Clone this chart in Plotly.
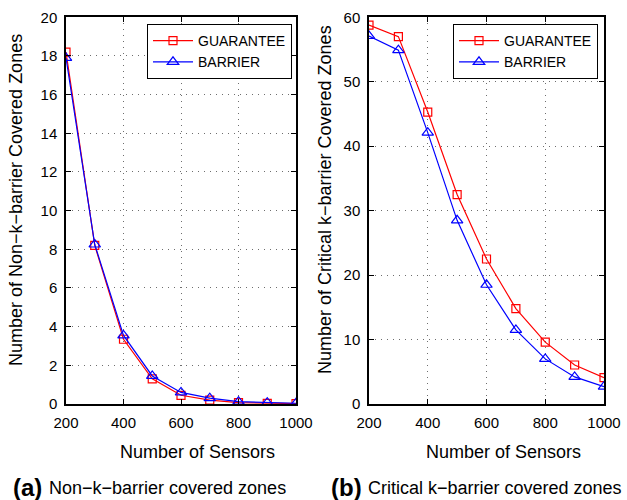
import plotly.graph_objects as go

sensors = [200, 300, 400, 500, 600, 700, 800, 900, 1000]
non_k_guarantee = [18.2, 8.2, 3.35, 1.3, 0.45, 0.2, 0.07, 0.03, 0.02]
non_k_barrier = [17.9, 8.25, 3.55, 1.45, 0.6, 0.3, 0.12, 0.07, 0.04]
critical_guarantee = [58.8, 57.0, 45.3, 32.5, 22.5, 14.8, 9.6, 6.05, 4.1]
critical_barrier = [57.1, 54.9, 42.1, 28.5, 18.5, 11.5, 7.0, 4.2, 2.7]

FONT = "Liberation Sans, Arial, Helvetica, sans-serif"
W, H = 627, 500

fig = go.Figure()

def add(x, y, name, color, symbol, size, xa, ya, legend):
    fig.add_trace(go.Scatter(
        x=x, y=y, name=name, mode="lines+markers",
        line=dict(color=color, width=1.2),
        marker=dict(symbol=symbol, size=size, color=color,
                    line=dict(color=color, width=1.2)),
        xaxis=xa, yaxis=ya, legend=legend))

add(sensors, non_k_guarantee, "GUARANTEE", "#ff0000", "square-open", 8, "x", "y", "legend")
add(sensors, non_k_barrier, "BARRIER", "#0000ff", "triangle-up-open", 10, "x", "y", "legend")
add(sensors, critical_guarantee, "GUARANTEE", "#ff0000", "square-open", 8, "x2", "y2", "legend2")
add(sensors, critical_barrier, "BARRIER", "#0000ff", "triangle-up-open", 10, "x2", "y2", "legend2")

ydom = [1 - 404 / H, 1 - 17.3 / H]
axis_common = dict(
    showline=True, linecolor="black", linewidth=1.5, mirror="ticks",
    ticks="inside", ticklen=5, tickcolor="black", automargin=False,
    showgrid=True, gridcolor="#6e6e6e", griddash="1px,5px", gridwidth=1,
    zeroline=False, tickfont=dict(family=FONT, size=15, color="black"),
    ticklabelstandoff=4,
)

def ann(text, x, y, size, angle=0, xanchor="center"):
    return dict(text=text, x=x / W, y=1 - y / H, xref="paper", yref="paper",
                xanchor=xanchor, yanchor="middle", showarrow=False, textangle=angle,
                font=dict(family=FONT, size=size, color="black"))

legend_common = dict(yanchor="top", xanchor="right", bgcolor="white",
                     bordercolor="black", borderwidth=1,
                     font=dict(family=FONT, size=14), tracegroupgap=0, itemwidth=40)

fig.update_layout(
    width=W, height=H,
    margin=dict(l=0, r=0, t=0, b=0),
    paper_bgcolor="white", plot_bgcolor="white",
    font=dict(family=FONT, size=14, color="black"),
    xaxis=dict(domain=[66 / W, 296 / W], range=[200, 1000], dtick=200, anchor="y", **axis_common),
    yaxis=dict(domain=ydom, range=[0, 20], dtick=2, anchor="x", **axis_common),
    xaxis2=dict(domain=[369 / W, 604 / W], range=[200, 1000], dtick=200, anchor="y2", **axis_common),
    yaxis2=dict(domain=ydom, range=[0, 60], dtick=10, anchor="x2", **axis_common),
    legend=dict(x=292 / W, y=1 - 24 / H, **legend_common),
    legend2=dict(x=598 / W, y=1 - 24 / H, **legend_common),
    annotations=[
        ann("Number of Sensors", 197, 452, 18),
        ann("Number of Sensors", 503, 452, 18),
        ann("Number of Non−k−barrier Covered Zones", 16, 200, 18, angle=-90),
        ann("Number of Critical k−barrier Covered Zones", 325, 200, 18, angle=-90),
        ann("<b>(a)</b>", 11, 487, 24, xanchor="left"),
        ann("Non−k−barrier covered zones", 47, 488, 18, xanchor="left"),
        ann("<b>(b)</b>", 329, 487, 24, xanchor="left"),
        ann("Critical k−barrier covered zones", 366, 488, 18, xanchor="left"),
    ],
)

fig.write_html("out.html",
               config={"displayModeBar": False},
               post_script="document.body.style.margin='0';document.body.style.overflow='hidden';")
